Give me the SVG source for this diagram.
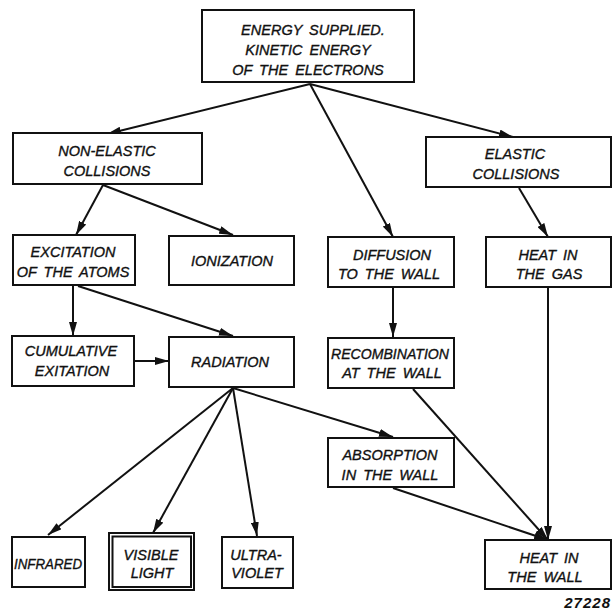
<svg xmlns="http://www.w3.org/2000/svg" width="613" height="611" viewBox="0 0 613 611">
  <style>
    .box { fill: #fff; stroke: #111; stroke-width: 2; }
    .lbl { font-family: "Liberation Sans", Arial, sans-serif; font-style: italic; font-size: 14.5px; fill: #111; stroke: #111; stroke-width: 0.35; text-anchor: middle; word-spacing: 3px; }
    .edge { fill: none; stroke: #111; stroke-width: 2; marker-end: url(#arrow); }
    .plain { fill: none; stroke: #111; stroke-width: 2; }
    .num { font-family: "Liberation Sans", Arial, sans-serif; font-style: italic; font-weight: bold; font-size: 15px; fill: #111; text-anchor: end; letter-spacing: 1px; }
  </style>
  <defs>
    <marker id="arrow" viewBox="0 0 14 8" refX="14" refY="4" markerWidth="14" markerHeight="8" markerUnits="userSpaceOnUse" orient="auto">
      <path d="M0,0 L14,4 L0,8 Z" fill="#111"/>
    </marker>
  </defs>
  <rect width="613" height="611" fill="#fff"/>

  <g id="connectors">
    <line class="edge" x1="310" y1="84" x2="107" y2="134"/>
    <line class="edge" x1="310" y1="84" x2="393" y2="237"/>
    <line class="edge" x1="310" y1="84" x2="513" y2="137"/>
    <line class="edge" x1="103" y1="185" x2="76" y2="235"/>
    <line class="edge" x1="103" y1="185" x2="233" y2="235"/>
    <line class="edge" x1="519" y1="188" x2="548" y2="237"/>
    <line class="edge" x1="73" y1="286" x2="73" y2="336"/>
    <line class="edge" x1="78" y1="286" x2="233" y2="336"/>
    <line class="edge" x1="134" y1="361" x2="169" y2="361"/>
    <line class="edge" x1="393" y1="288" x2="393" y2="337"/>
    <line class="edge" x1="233" y1="388" x2="48" y2="535"/>
    <line class="edge" x1="233" y1="388" x2="153" y2="533"/>
    <line class="edge" x1="233" y1="388" x2="257" y2="536"/>
    <line class="edge" x1="233" y1="388" x2="393" y2="437"/>
    <line class="edge" x1="413" y1="389" x2="548" y2="540"/>
    <line class="edge" x1="393" y1="488" x2="548" y2="540"/>
    <line class="edge" x1="548" y1="288" x2="548" y2="540"/>
  </g>

  <g id="energy">
    <rect class="box" x="202" y="10" width="212" height="72"/>
    <text class="lbl" x="313" y="35">ENERGY SUPPLIED.</text>
    <text class="lbl" x="308" y="55">KINETIC ENERGY</text>
    <text class="lbl" x="308" y="75">OF THE ELECTRONS</text>
  </g>

  <g id="non-elastic">
    <rect class="box" x="13" y="133" width="189" height="51"/>
    <text class="lbl" x="107" y="156">NON-ELASTIC</text>
    <text class="lbl" x="107" y="176">COLLISIONS</text>
  </g>

  <g id="elastic">
    <rect class="box" x="426" y="137" width="185" height="50"/>
    <text class="lbl" x="515" y="159">ELASTIC</text>
    <text class="lbl" x="516" y="179">COLLISIONS</text>
  </g>

  <g id="excitation">
    <rect class="box" x="13" y="235" width="122" height="50"/>
    <text class="lbl" x="73" y="257">EXCITATION</text>
    <text class="lbl" x="73" y="277">OF THE ATOMS</text>
  </g>

  <g id="ionization">
    <rect class="box" x="169" y="236" width="125" height="49"/>
    <text class="lbl" x="232" y="266">IONIZATION</text>
  </g>

  <g id="diffusion">
    <rect class="box" x="328" y="237" width="126" height="50"/>
    <text class="lbl" x="392" y="260">DIFFUSION</text>
    <text class="lbl" x="389" y="279">TO THE WALL</text>
  </g>

  <g id="heat-gas">
    <rect class="box" x="486" y="237" width="125" height="50"/>
    <text class="lbl" x="548" y="260">HEAT IN</text>
    <text class="lbl" x="549" y="279">THE GAS</text>
  </g>

  <g id="cumulative">
    <rect class="box" x="12" y="336" width="122" height="50"/>
    <text class="lbl" x="71" y="356">CUMULATIVE</text>
    <text class="lbl" x="72" y="376">EXITATION</text>
  </g>

  <g id="radiation">
    <rect class="box" x="169" y="337" width="125" height="50"/>
    <text class="lbl" x="230" y="367">RADIATION</text>
  </g>

  <g id="recombination">
    <rect class="box" x="328" y="338" width="126" height="50"/>
    <text class="lbl" x="390" y="359" textLength="118" lengthAdjust="spacingAndGlyphs">RECOMBINATION</text>
    <text class="lbl" x="392" y="378">AT THE WALL</text>
  </g>

  <g id="absorption">
    <rect class="box" x="328" y="438" width="126" height="49"/>
    <text class="lbl" x="390" y="460">ABSORPTION</text>
    <text class="lbl" x="390" y="480">IN THE WALL</text>
  </g>

  <g id="infrared">
    <rect class="box" x="12" y="537" width="73" height="50"/>
    <text class="lbl" x="48" y="569" textLength="68" lengthAdjust="spacingAndGlyphs">INFRARED</text>
  </g>

  <g id="visible">
    <rect class="box" x="109" y="533" width="85" height="57"/>
    <rect class="plain" x="112.5" y="536.5" width="78.5" height="50.5"/>
    <text class="lbl" x="151" y="560">VISIBLE</text>
    <text class="lbl" x="152" y="578">LIGHT</text>
  </g>

  <g id="ultraviolet">
    <rect class="box" x="222" y="537" width="71" height="51"/>
    <text class="lbl" x="256" y="560">ULTRA-</text>
    <text class="lbl" x="257" y="578">VIOLET</text>
  </g>

  <g id="heat-wall">
    <rect class="box" x="485" y="540" width="126" height="49"/>
    <text class="lbl" x="549" y="563">HEAT IN</text>
    <text class="lbl" x="545" y="582">THE WALL</text>
  </g>

  <text class="num" x="611" y="608">27228</text>
</svg>
